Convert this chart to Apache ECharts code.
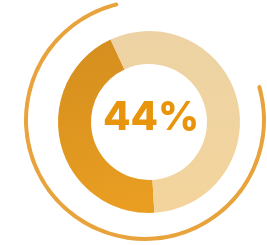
<!DOCTYPE html>
<html>
<head>
<meta charset="utf-8">
<script src="https://cdn.jsdelivr.net/npm/echarts@6/dist/echarts.min.js"></script>
<style>
html,body{margin:0;padding:0;background:#fff;}
#chart{width:267px;height:245px;}
</style>
</head>
<body>
<div id="chart"></div>
<script>
// Data
const categories = ['Share', 'Rest'];
const values = [44, 56];
const centerLabel = '44%';

const chart = echarts.init(document.getElementById('chart'), null, {renderer: 'canvas'});

const option = {
  animation: false,
  backgroundColor: '#ffffff',
  series: [
    {
      // decorative outer arc
      type: 'pie',
      silent: true,
      center: [145, 120],
      radius: [117, 121],
      startAngle: 103,
      clockwise: false,
      label: {show: false},
      labelLine: {show: false},
      itemStyle: {borderRadius: 2},
      data: [
        {value: 274, itemStyle: {color: '#E8A33C'}},
        {value: 86, itemStyle: {color: 'rgba(0,0,0,0)'}}
      ]
    },
    {
      type: 'pie',
      center: [149, 122],
      radius: [58, 91],
      startAngle: 115,
      clockwise: false,
      label: {show: false},
      labelLine: {show: false},
      data: [
        {name: categories[0], value: values[0], itemStyle: {
          color: new echarts.graphic.LinearGradient(0, 0, 0.4, 1, [
            {offset: 0, color: '#D48E1E'},
            {offset: 1, color: '#E99E22'}
          ])
        }},
        {name: categories[1], value: values[1], itemStyle: {
          color: new echarts.graphic.LinearGradient(0, 0, 0, 1, [
            {offset: 0, color: '#EDD3A4'},
            {offset: 1, color: '#F3D49C'}
          ])
        }}
      ]
    }
  ],
  graphic: [
    {
      type: 'text',
      x: 151,
      y: 118,
      style: {
        text: centerLabel,
        font: '800 40px Inter',
        fill: '#E8950C',
        textAlign: 'center',
        textVerticalAlign: 'middle'
      }
    }
  ]
};
chart.setOption(option);
</script>
</body>
</html>
